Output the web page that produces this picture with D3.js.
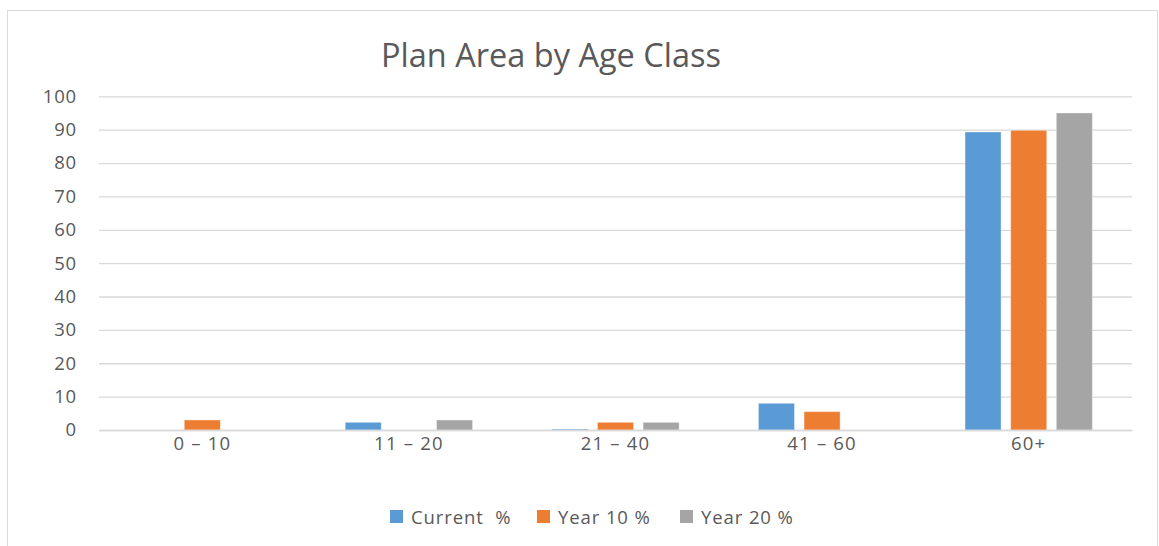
<!DOCTYPE html>
<html><head><meta charset="utf-8">
<script src="https://cdn.jsdelivr.net/npm/d3@7"></script>
<style>body{margin:0;background:#fff}svg{display:block}text{font-family:"Open Sans",sans-serif;fill:#595959}</style>
</head><body>
<svg id="c" width="1159" height="546"></svg>
<script>
const categories = ["0 – 10", "11 – 20", "21 – 40", "41 – 60", "60+"];
const seriesNames = ["Current  %", "Year 10 %", "Year 20 %"];
const currentPct = [0, 2.3, 0.3, 8, 89.3];
const year10Pct = [3, 0, 2.3, 5.5, 89.8];
const year20Pct = [0, 3, 2.3, 0, 95];
const yTicks = [0, 10, 20, 30, 40, 50, 60, 70, 80, 90, 100];
const colors = ["#5b9bd5", "#ed7d31", "#a5a5a5"];

const svg = d3.select("#c");
svg.append("rect").attr("x", 7.5).attr("y", 10.5).attr("width", 1150).attr("height", 540)
  .attr("fill", "#fff").attr("stroke", "#d9d9d9");

const x0 = d3.scaleBand().domain(categories).range([99, 1132]);
const x1 = d3.scaleBand().domain(seriesNames).range([-63.65, 63.65]).paddingInner(0.211);
const y = d3.scaleLinear().domain([0, 100]).range([430, 96.3]);

const yAxis = svg.append("g").attr("transform", "translate(99,0)")
  .call(d3.axisLeft(y).tickValues(yTicks).tickSize(-1033).tickPadding(22));
yAxis.select(".domain").remove();
yAxis.selectAll("line").attr("stroke", "#d9d9d9").attr("stroke-width", 1.3);
yAxis.selectAll("text").attr("font-size", 18.5).attr("letter-spacing", 0.8)
  .style("font-family", '"Open Sans",sans-serif').attr("fill", "#595959");

const data = [currentPct, year10Pct, year20Pct];
seriesNames.forEach((s, si) => {
  svg.append("g").selectAll("rect").data(categories).join("rect")
    .attr("x", c => x0(c) + x0.bandwidth() / 2 + x1(s))
    .attr("width", x1.bandwidth())
    .attr("y", (c, i) => y(data[si][i]))
    .attr("height", (c, i) => y(0) - y(data[si][i]))
    .attr("fill", colors[si])
    .attr("stroke", "#fff").attr("stroke-opacity", 0.35).attr("stroke-width", 1);
});

const xAxis = svg.append("g").attr("transform", "translate(0,430)")
  .call(d3.axisBottom(x0).tickSize(0).tickPadding(7));
xAxis.select(".domain").attr("stroke", "#d9d9d9").attr("stroke-width", 1.3);
xAxis.selectAll("text").attr("font-size", 18.5).attr("letter-spacing", 1.2)
  .style("font-family", '"Open Sans",sans-serif').attr("fill", "#595959");

svg.append("text").attr("x", 551).attr("y", 67).attr("text-anchor", "middle")
  .attr("font-size", 32.5).text("Plan Area by Age Class");

const legX = [390, 537, 680];
const lg = svg.append("g");
seriesNames.forEach((s, i) => {
  lg.append("rect").attr("x", legX[i]).attr("y", 510).attr("width", 13).attr("height", 13).attr("fill", colors[i]);
  lg.append("text").attr("x", legX[i] + 21).attr("y", 524).attr("font-size", 18.5).attr("letter-spacing", 0.9)
    .attr("xml:space", "preserve").style("white-space", "pre").text(s);
});
</script>
</body></html>
